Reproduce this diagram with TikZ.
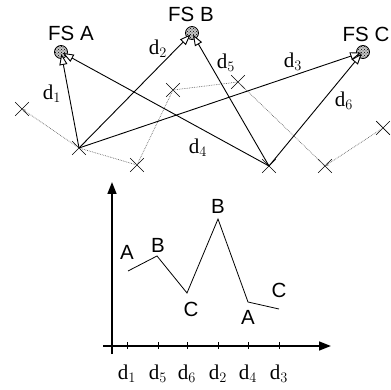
\documentclass[tikz,border=0pt]{standalone}
\usepackage{fontspec}
\setmainfont{Liberation Serif}
\setsansfont{Liberation Sans}
\usetikzlibrary{arrows.meta,shapes.misc,patterns}

\begin{document}
\begin{tikzpicture}[x=1pt, y=-1pt,
    fs/.style={circle, draw, line width=0.8pt, preaction={fill=gray!45}, pattern=crosshatch dots, minimum size=13pt, inner sep=0pt},
    fslabel/.style={font=\sffamily\fontsize{20.5}{20.5}\selectfont},
    spot/.style={cross out, draw, minimum size=13pt, inner sep=0pt, line width=0.7pt},
    dist/.style={-{Triangle[fill=white, length=11pt, width=8pt]}, line width=0.9pt, shorten >=2pt},
    walk/.style={densely dotted, gray!80!black, line width=0.7pt},
    dlabel/.style={font=\fontsize{21}{21}\selectfont},
    axis/.style={-{Triangle[length=12pt, width=9pt]}, line width=1.7pt},
  ]
  \useasboundingbox (0,0) rectangle (391,390);

  % fingerprint stations
  \node[fs] (fsa) at (61,52) {};
  \node[fs] (fsb) at (192,33) {};
  \node[fs] (fsc) at (363,52) {};
  \node[fslabel] at (71,33) {FS A};
  \node[fslabel] at (191,14) {FS B};
  \node[fslabel] at (366,34) {FS C};

  % measured positions
  \node[spot] (x1) at (22,109) {};
  \node[spot] (x2) at (79,148) {};
  \node[spot] (x3) at (137,165) {};
  \node[spot] (x4) at (173,90) {};
  \node[spot] (x5) at (238,82) {};
  \node[spot] (x6) at (269,166) {};
  \node[spot] (x7) at (325,166) {};
  \node[spot] (x8) at (383,128) {};

  % walk between positions
  \draw[walk, -{Stealth[length=4pt, width=3pt]}] (x2.center) -- (x1.center);
  \draw[walk] (x2.center) -- (x3.center) -- (x4.center) -- (x5.center) -- (x7.center);
  \draw[walk, -{Stealth[length=4pt, width=3pt]}] (x8.center) -- (x7.center);

  % distances
  \draw[dist] (x2.center) -- (fsa.center);
  \draw[dist] (x2.center) -- (fsb.center);
  \draw[dist] (x2.center) -- (fsc.center);
  \draw[dist] (x6.center) -- (fsa.center);
  \draw[dist] (x6.center) -- (fsb.center);
  \draw[dist] (x6.center) -- (fsc.center);
  \node[dlabel] at (52,94) {$\mathrm{d}_1$};
  \node[dlabel] at (158,49) {$\mathrm{d}_2$};
  \node[dlabel] at (293,62) {$\mathrm{d}_3$};
  \node[dlabel] at (198,148) {$\mathrm{d}_4$};
  \node[dlabel] at (226,63) {$\mathrm{d}_5$};
  \node[dlabel] at (344,101) {$\mathrm{d}_6$};

  % chart
  \coordinate (ybot) at (112,354);
  \coordinate (ytop) at (112,182);
  \coordinate (xleft) at (103,346);
  \coordinate (xright) at (331,346);
  \draw[axis] (ybot) -- (ytop);
  \draw[axis] (xleft) -- (xright);
  \foreach \x/\s in {127/1, 158/5, 187/6, 218/2, 248/4, 279/3} {
    \draw[line width=0.7pt] (\x,342) -- (\x,349);
    \node[dlabel] at (\x,374) {$\mathrm{d}_{\s}$};
  }
  \coordinate (p1) at (128,271);
  \coordinate (p2) at (157,256);
  \coordinate (p3) at (187,293);
  \coordinate (p4) at (218,219);
  \coordinate (p5) at (248,302);
  \coordinate (p6) at (279,309);
  \draw[line width=0.8pt] (p1) -- (p2) -- (p3) -- (p4) -- (p5) -- (p6);
  \node[fslabel] at (127,252) {A};
  \node[fslabel] at (158,245) {B};
  \node[fslabel] at (191,309) {C};
  \node[fslabel] at (218,206) {B};
  \node[fslabel] at (248,317) {A};
  \node[fslabel] at (279,290) {C};
\end{tikzpicture}
\end{document}
